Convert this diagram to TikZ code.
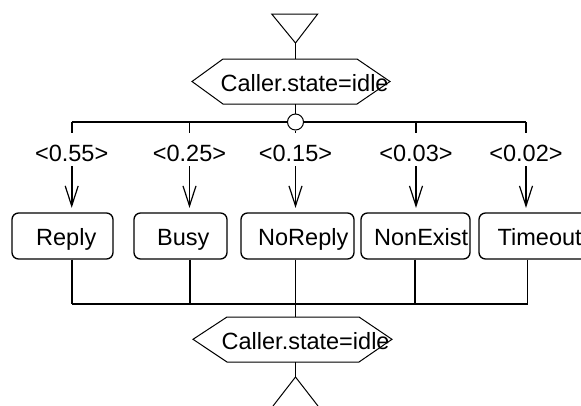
\documentclass[tikz,border=0pt]{standalone}
\usepackage{fontspec}
\setmainfont{Liberation Sans}
\usetikzlibrary{arrows.meta}
\begin{document}
\begin{tikzpicture}[x=1pt,y=-1pt,
  txt/.style={font=\fontsize{23.5}{28}\selectfont, inner sep=0pt},
  prob/.style={txt, text height=28.7pt, text depth=4.3pt, anchor=base},
  outcome/.style={draw, line width=1.3pt, rounded corners=6.5pt, inner sep=0pt},
  wire/.style={line width=1.6pt},
  thin/.style={line width=1pt},
  barb/.style={wire, -{Straight Barb[length=20pt,width=13pt,line width=1.2pt]}}]
\useasboundingbox (0,0) rectangle (581,405);
\clip (0,0) rectangle (581,405);

% entry triangle
\draw[thin] (271.7,14) -- (317.7,14) -- (295.5,43) -- cycle;
\coordinate (entry) at (295.5,43);

% first decision hexagon
\draw[thin, fill=white] (192,81.5) -- (223,59) -- (357,59) -- (390,81.5) -- (357,104) -- (223,104) -- cycle;
\coordinate (hexAtop) at (295.5,59);
\coordinate (hexAbot) at (295.5,104);
\node[txt, anchor=base west] (condA) at (220.5,91.7) {Caller.state=idle};

% branching point
\node[draw, circle, thin, fill=white, minimum size=16pt, inner sep=0pt] (fork) at (295.5,122) {};
\coordinate (barL) at (71.7,122);
\coordinate (barR) at (526,122);

% probability labels
\node[prob] (p1) at (71.7,161.7) {<0.55>};
\node[prob] (p2) at (189.5,161.7) {<0.25>};
\node[prob] (p3) at (295.5,161.7) {<0.15>};
\node[prob] (p4) at (416,161.7) {<0.03>};
\node[prob] (p5) at (526,161.7) {<0.02>};

% outcome boxes
\node[outcome, minimum width=101pt, minimum height=46pt] (reply)    at (62.5,236) {};
\node[outcome, minimum width=93pt,  minimum height=46pt] (busy)     at (180.5,236) {};
\node[outcome, minimum width=113pt, minimum height=46pt] (noreply)  at (297.5,236) {};
\node[outcome, minimum width=109pt, minimum height=46pt] (nonexist) at (415.5,236) {};
\node[outcome, minimum width=110pt, minimum height=46pt] (timeout)  at (534,236) {};
\node[txt, anchor=base west] at (36,245) {Reply};
\node[txt, anchor=base west] at (157,245) {Busy};
\node[txt, anchor=base west] at (258,245) {NoReply};
\node[txt, anchor=base west] at (374,245) {NonExist};
\node[txt, anchor=base west] at (497.5,245) {Timeout};

% top connectors
\draw[wire] (entry) -- (hexAtop);
\draw[wire] (hexAbot) -- (fork.north);
\draw[wire] (barL) -- (fork.west);
\draw[wire] (fork.east) -- (barR);
\draw[wire] (barL) -- (p1.north);
\draw[wire] (p2.north |- barL) -- (p2.north);
\draw[wire] (fork.south) -- (p3.north);
\draw[wire] (p4.north |- barL) -- (p4.north);
\draw[wire] (barR) -- (p5.north);
\foreach \p/\b in {p1/reply, p2/busy, p3/noreply, p4/nonexist, p5/timeout}
  \draw[barb, shorten >=4.5pt] (\p.south) -- (\p.south |- \b.north);

% join bar
\coordinate (joinL) at (71.7,304);
\coordinate (joinR) at (527.5,304);
\coordinate (joinM) at (295.5,304);
\draw[wire] (joinL) -- (joinR);
\draw[wire] (reply.south -| joinL) -- (joinL);
\draw[wire] (busy.south -| 190,0) -- (190,304);
\draw[wire] (noreply.south -| joinM) -- (joinM);
\draw[wire] (nonexist.south -| 415,0) -- (415,304);
\draw[wire] (timeout.south -| joinR) -- (joinR);

% second decision hexagon
\draw[thin, fill=white] (193,339.3) -- (227,317) -- (359,317) -- (392,339.3) -- (359,362) -- (227,362) -- cycle;
\coordinate (hexBtop) at (295.5,317);
\coordinate (hexBbot) at (295.5,362);
\node[txt, anchor=base west] (condB) at (221.5,349) {Caller.state=idle};
\draw[wire] (joinM) -- (hexBtop);

% exit fork
\coordinate (exitTip) at (295.5,377);
\draw[wire] (hexBbot) -- (exitTip);
\draw[thin] (273,406) -- (exitTip) -- (318,406);
\end{tikzpicture}
\end{document}
